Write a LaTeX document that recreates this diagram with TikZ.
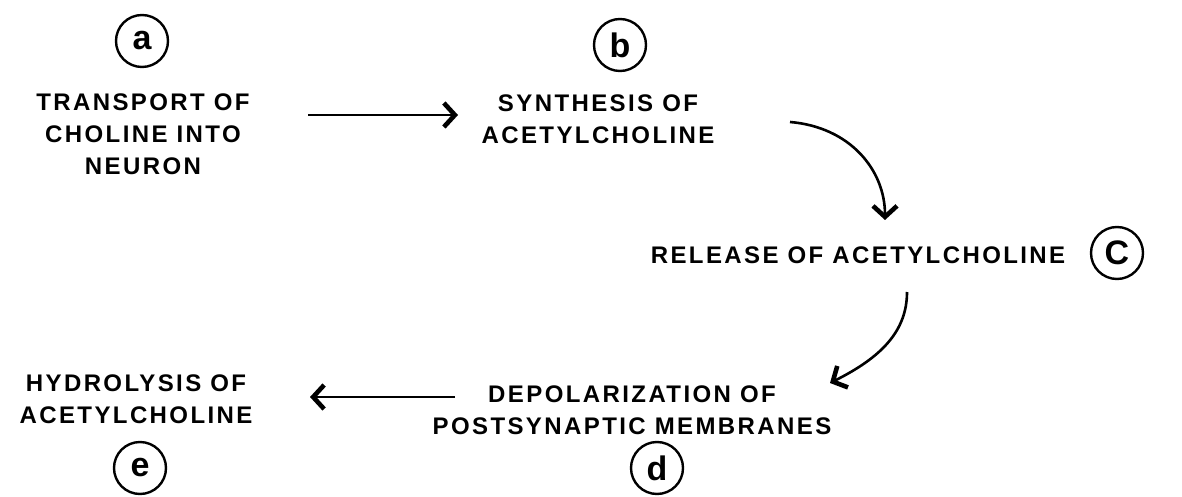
\documentclass[tikz,border=0pt]{standalone}
\usepackage{fontspec}
\usetikzlibrary{arrows.meta,calc}
\newfontfamily\lblfont[LetterSpace=10]{Liberation Sans}
\newfontfamily\tagfont{Liberation Sans}
\tikzset{
  lbl/.style={font=\lblfont\bfseries\fontsize{12}{16}\selectfont, align=center, inner sep=0pt},
  tag/.style={circle, draw, line width=1.2pt, minimum size=26pt, inner sep=0pt,
              font=\tagfont\bfseries\fontsize{17}{17}\selectfont},
  arr/.style={line width=1.3pt, -{Straight Barb[length=5.5pt,width=12pt,line width=2.3pt]}}
}
\begin{document}
\begin{tikzpicture}[x=0.5pt,y=-0.5pt]
\useasboundingbox (0,0) rectangle (1182,497);
% labels
\node[tag] (ca) at (142,41) {a};
\node[tag] (cb) at (620,45) {b};
\node[tag] (cc) at (1117,253) {C};
\node[tag] (cd) at (657,468) {d};
\node[tag] (ce) at (140,468) {e};
% texts
\node[lbl] (ta) at (143,134) {TRANSPORT OF\\CHOLINE INTO\\NEURON};
\node[lbl] (tb) at (598,119) {SYNTHESIS OF\\ACETYLCHOLINE};
\node[lbl] (tc) at (858,255) {RELEASE OF ACETYLCHOLINE};
\node[lbl] (td) at (632,410) {DEPOLARIZATION OF\\POSTSYNAPTIC MEMBRANES};
\node[lbl] (te) at (136,399) {HYDROLYSIS OF\\ACETYLCHOLINE};
% connectors
\draw[arr] ($(ta)+(165,-19)$) -- ($(tb)+(-140,-4)$);
\draw[arr] ($(tb)+(192,3)$) .. controls +(60,5) and +(0,-50) .. ($(tc)+(27,-35)$);
\draw[arr] ($(tc)+(49,37)$) .. controls +(0,40) and +(50,-25) .. ($(td)+(198,-27)$);
\draw[arr] ($(td)+(-177,-13)$) -- ($(te)+(174,-2)$);
\end{tikzpicture}
\end{document}
